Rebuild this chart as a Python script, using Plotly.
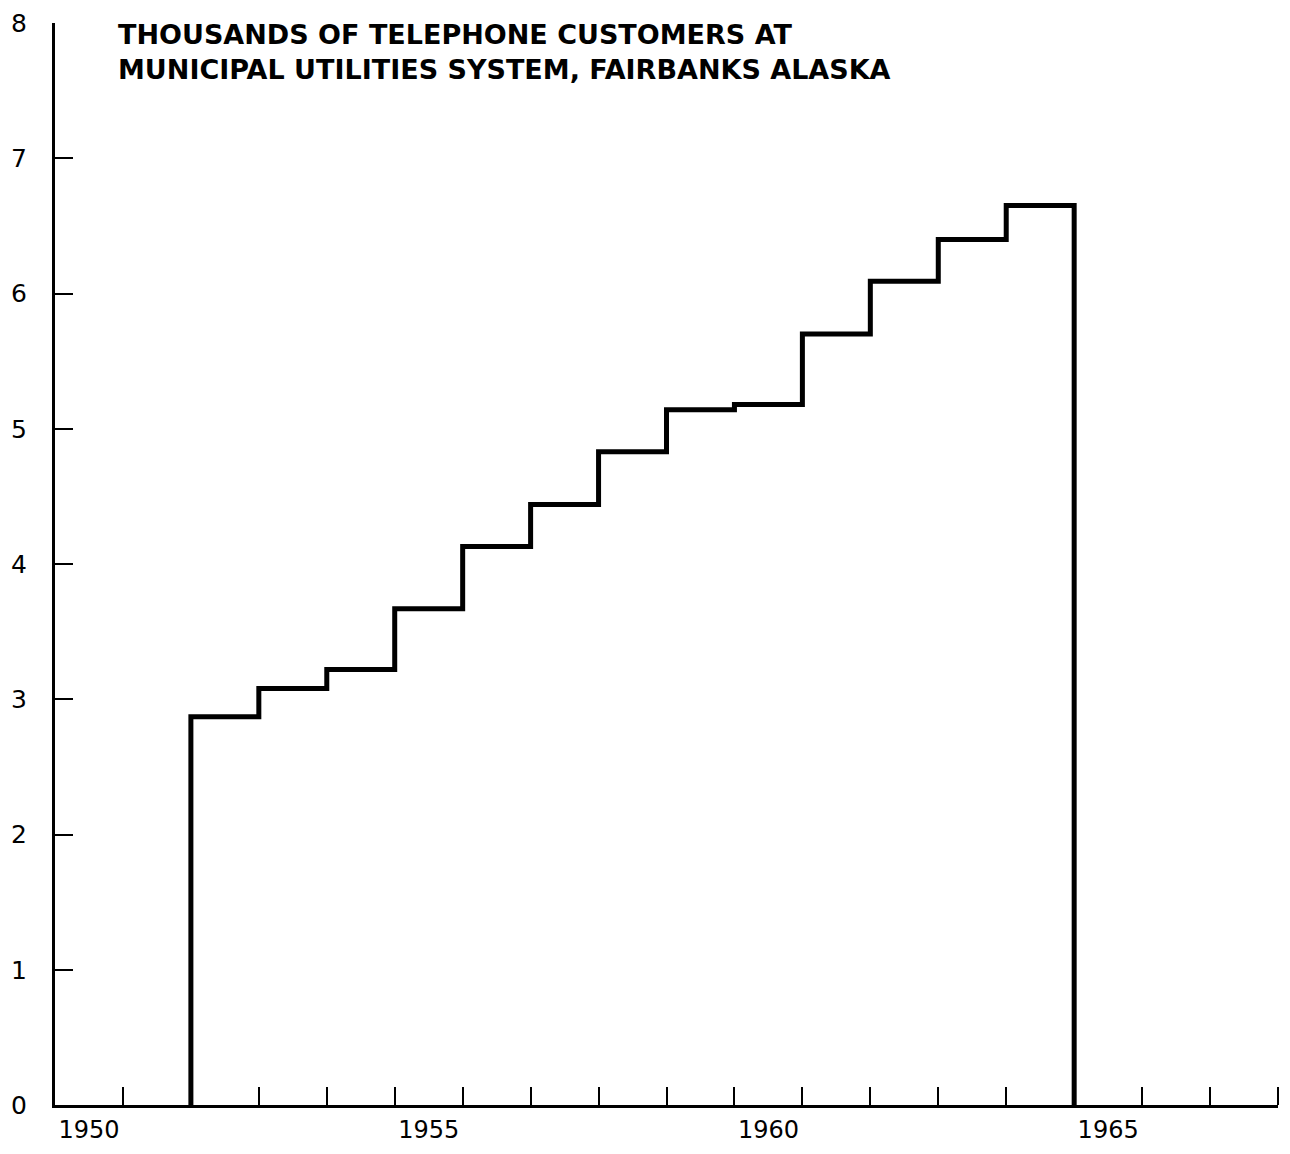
import plotly.graph_objects as go

# Customers (thousands) per year
years = [1952, 1953, 1954, 1955, 1956, 1957, 1958, 1959, 1960, 1961, 1962, 1963, 1964]
customers = [2.87, 3.08, 3.22, 3.67, 4.13, 4.44, 4.83, 5.14, 5.18, 5.70, 6.09, 6.40, 6.65]

year_labels = [1950, 1955, 1960, 1965]
y_ticks = [0, 1, 2, 3, 4, 5, 6, 7, 8]
title_lines = [
    "THOUSANDS OF TELEPHONE CUSTOMERS AT",
    "MUNICIPAL UTILITIES SYSTEM, FAIRBANKS ALASKA",
]

FONT = "DejaVu Sans"
INK = "#000000"

# each year occupies one interval centred on the year -> build the step outline
step_x = [years[0] - 0.5]
step_y = [0]
for yr, v in zip(years, customers):
    step_x += [yr - 0.5, yr + 0.5]
    step_y += [v, v]
step_x.append(years[-1] + 0.5)
step_y.append(0)

fig = go.Figure()
fig.add_trace(go.Scatter(
    x=step_x, y=step_y,
    mode="lines",
    line=dict(color=INK, width=5),
    hoverinfo="skip",
    showlegend=False,
))

fig.add_annotation(
    text="<br>".join(title_lines),
    xref="paper", yref="paper",
    x=0.05, y=1.006, xanchor="left", yanchor="top",
    align="left", showarrow=False,
    font=dict(family=FONT, size=27, color=INK, weight="bold"),
)

# interval boundaries get the tick marks, labels sit in the middle of a year
boundaries = [y + 0.5 for y in range(1950, 1968)]

# page body has an 8px margin, so the figure is sized to fit inside it
fig.update_layout(
    width=1274, height=1138,
    plot_bgcolor="white", paper_bgcolor="white",
    margin=dict(l=47, r=4, t=15, b=41),
    font=dict(family=FONT, color=INK, size=25),
    xaxis=dict(
        range=[1949.5, 1967.5],
        tickvals=year_labels,
        ticktext=[str(y) for y in year_labels],
        tickfont=dict(size=24),
        ticks="", ticklabelstandoff=1,
        showgrid=False, zeroline=False, automargin=False,
        showline=True, linecolor=INK, linewidth=3,
        minor=dict(tickvals=boundaries, ticks="inside", ticklen=18,
                   tickwidth=2, tickcolor=INK, showgrid=False),
    ),
    yaxis=dict(
        range=[0, 8],
        tickvals=y_ticks,
        ticks="inside", ticklen=18, tickwidth=2, tickcolor=INK,
        ticklabelstandoff=20,
        showgrid=False, zeroline=False, automargin=False,
        showline=True, linecolor=INK, linewidth=3,
    ),
)

fig.write_html("out.html")
